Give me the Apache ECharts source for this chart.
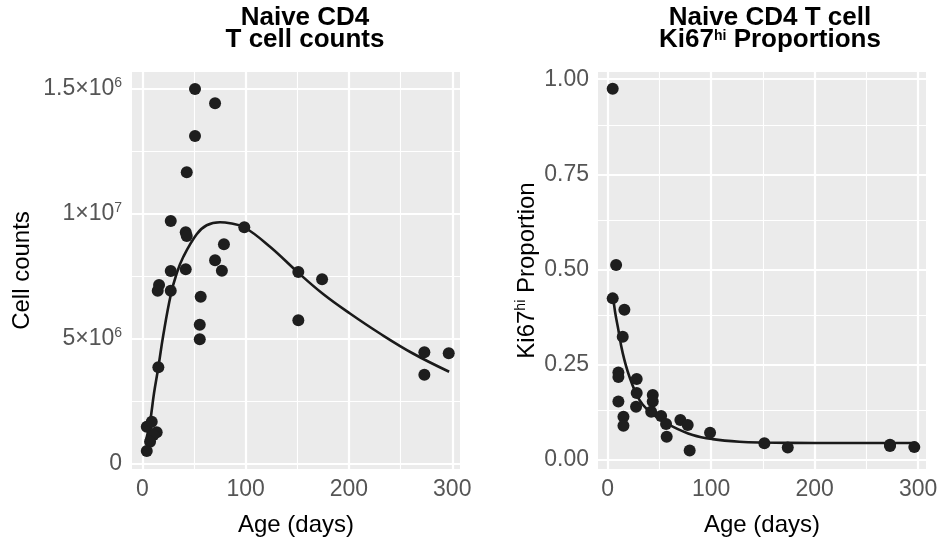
<!DOCTYPE html>
<html>
<head>
<meta charset="utf-8">
<script src="https://cdn.jsdelivr.net/npm/echarts@6/dist/echarts.min.js"></script>
<style>
  html, body { margin: 0; padding: 0; background: #ffffff; }
  #chart { width: 950px; height: 544px; }
</style>
</head>
<body>
<div id="chart"></div>
<script>
// ---------- data ----------
// Left panel: Naive CD4 T cell counts
const countAge = [51, 70.4, 51, 43, 27.5, 42, 43, 98.7, 79, 70.4, 77, 27.5, 42, 16.2, 14.9, 27.5, 56.5, 151, 174, 151, 55.6, 55.6, 15.5, 273, 296.6, 273, 4.3, 9.1, 13.9, 10.7, 7.5, 4.3];
const countVal = [15.0e6, 14.43e6, 13.12e6, 11.67e6, 9.72e6, 9.27e6, 9.12e6, 9.47e6, 8.79e6, 8.15e6, 7.73e6, 7.72e6, 7.79e6, 7.16e6, 6.93e6, 6.93e6, 6.69e6, 7.68e6, 7.39e6, 5.75e6, 5.57e6, 4.99e6, 3.87e6, 4.47e6, 4.43e6, 3.57e6, 1.49e6, 1.69e6, 1.27e6, 1.16e6, 0.89e6, 0.52e6];
const countFitAge = [3.6, 7.5, 11.3, 15.5, 20.3, 27.5, 33.3, 39.7, 52.6, 62.3, 75.2, 84.9, 98.7, 123.6, 151, 175, 201, 230, 262, 297];
const countFitVal = [0.96e6, 1.69e6, 2.83e6, 3.87e6, 5.16e6, 6.76e6, 7.63e6, 8.29e6, 9.19e6, 9.55e6, 9.67e6, 9.63e6, 9.47e6, 8.69e6, 7.65e6, 6.80e6, 6.02e6, 5.22e6, 4.42e6, 3.69e6];

// Right panel: Ki67hi proportions
const kiAge = [4.8, 8.1, 4.8, 16.1, 14.5, 10.3, 10.3, 28, 28, 10.3, 27.4, 43.5, 43.5, 42, 51.6, 56.4, 57, 15.2, 15.2, 70.2, 77.3, 79.2, 98.9, 151.4, 174, 272.8, 272.8, 296.3];
const kiVal = [0.975, 0.512, 0.424, 0.394, 0.323, 0.229, 0.217, 0.212, 0.175, 0.153, 0.139, 0.170, 0.153, 0.126, 0.115, 0.094, 0.060, 0.113, 0.089, 0.104, 0.091, 0.024, 0.071, 0.043, 0.032, 0.039, 0.036, 0.033];
const kiFitAge = [4.8, 7, 9.7, 14.5, 21, 30.6, 40, 46.8, 62.8, 82.1, 101.4, 127.2, 150, 200, 298];
const kiFitVal = [0.437, 0.39, 0.35, 0.28, 0.218, 0.157, 0.127, 0.113, 0.087, 0.065, 0.054, 0.047, 0.045, 0.044, 0.044];

// Ticks
const xTicks = [0, 100, 200, 300];
const xMinor = [50, 150, 250];
const countTicks = [0, 5e6, 1e7, 1.5e7];
const countTickBase = ['0', '5×10', '1×10', '1.5×10'];
const countTickExp = ['', '6', '7', '6'];
const countMinor = [2.5e6, 7.5e6, 1.25e7];
const kiTicks = [0, 0.25, 0.5, 0.75, 1.0];
const kiTickLabels = ['0.00', '0.25', '0.50', '0.75', '1.00'];
const kiMinor = [0.125, 0.375, 0.625, 0.875];

// ---------- build ----------
const zip = (a, b) => a.map((v, i) => [v, b[i]]);
const FONT = 'Liberation Sans';
const TICK_COLOR = '#555555';
const MAJOR_W = 2.2, MINOR_W = 1.1;

function gridLines(xMaj, xMin, yMaj, yMin) {
  const d = [];
  xMin.forEach(v => d.push({ xAxis: v, lineStyle: { width: MINOR_W } }));
  yMin.forEach(v => d.push({ yAxis: v, lineStyle: { width: MINOR_W } }));
  xMaj.forEach(v => d.push({ xAxis: v, lineStyle: { width: MAJOR_W } }));
  yMaj.forEach(v => d.push({ yAxis: v, lineStyle: { width: MAJOR_W } }));
  return d;
}

function xAxisCfg(gridIndex, min, max) {
  return {
    type: 'value', gridIndex, min, max,
    splitLine: { show: false },
    axisLine: { show: false },
    axisTick: { show: true, customValues: xTicks, length: 5, lineStyle: { color: '#333333', width: 1.8 } },
    axisLabel: { customValues: xTicks, margin: 9, color: TICK_COLOR, fontFamily: FONT, fontSize: 23 },
    name: 'Age (days)', nameLocation: 'middle', nameGap: 44,
    nameTextStyle: { color: '#000', fontFamily: FONT, fontSize: 24 }
  };
}

const supRich = {
  a: { color: TICK_COLOR, fontFamily: FONT, fontSize: 23, lineHeight: 26 },
  s: { color: TICK_COLOR, fontFamily: FONT, fontSize: 14, lineHeight: 26, verticalAlign: 'top', padding: [0, 0, 10, 0] }
};

function markLineCfg(data) {
  return {
    silent: true, z: 1, symbol: ['none', 'none'], label: { show: false }, animation: false,
    lineStyle: { color: '#ffffff', type: 'solid' },
    emphasis: { disabled: true },
    data
  };
}

const TITLE_SIZE = 26, TITLE_LH = 22;

const option = {
  animation: false,
  backgroundColor: '#ffffff',
  title: [
    {
      text: 'Naive CD4\nT cell counts',
      left: 300, top: 2, textAlign: 'center',
      textStyle: { fontFamily: FONT, fontWeight: 'bold', fontSize: TITLE_SIZE, lineHeight: TITLE_LH, color: '#000' }
    },
    {
      text: '{b|Naive CD4 T cell}\n{b|Ki67}{s|hi}{b| Proportions}',
      left: 765, top: 2, textAlign: 'center',
      textStyle: {
        rich: {
          b: { fontFamily: FONT, fontWeight: 'bold', fontSize: TITLE_SIZE, lineHeight: TITLE_LH, color: '#000' },
          s: { fontFamily: FONT, fontWeight: 'bold', fontSize: 14, lineHeight: TITLE_LH, color: '#000', verticalAlign: 'top', padding: [0, 0, 6, 0] }
        }
      }
    }
  ],
  grid: [
    { left: 132, top: 72, width: 328, height: 397, show: true, backgroundColor: '#EBEBEB', borderWidth: 0 },
    { left: 598, top: 72, width: 328, height: 397, show: true, backgroundColor: '#EBEBEB', borderWidth: 0 }
  ],
  xAxis: [xAxisCfg(0, -10, 307.5), xAxisCfg(1, -9.4, 307.6)],
  yAxis: [
    {
      type: 'value', gridIndex: 0, min: -2e5, max: 15.68e6,
      splitLine: { show: false }, axisLine: { show: false },
      axisTick: { show: true, customValues: countTicks, length: 5, lineStyle: { color: '#333333', width: 1.8 } },
      axisLabel: {
        customValues: countTicks, margin: 10,
        formatter: function (v) {
          const i = countTicks.findIndex(t => Math.abs(t - v) < 1);
          if (i < 0) return '';
          return countTickExp[i] ? '{a|' + countTickBase[i] + '}{s|' + countTickExp[i] + '}' : '{a|' + countTickBase[i] + '}';
        },
        rich: supRich
      },
      name: 'Cell counts', nameLocation: 'middle', nameGap: 98,
      nameTextStyle: { color: '#000', fontFamily: FONT, fontSize: 24 }
    },
    {
      type: 'value', gridIndex: 1, min: -0.0245, max: 1.019,
      splitLine: { show: false }, axisLine: { show: false },
      axisTick: { show: true, customValues: kiTicks, length: 5, lineStyle: { color: '#333333', width: 1.8 } },
      axisLabel: {
        customValues: kiTicks, margin: 9, color: TICK_COLOR, fontFamily: FONT, fontSize: 23,
        formatter: function (v) {
          const i = kiTicks.findIndex(t => Math.abs(t - v) < 1e-6);
          return i < 0 ? '' : kiTickLabels[i];
        }
      },
      name: '{n|Ki67}{s|hi}{n| Proportion}', nameLocation: 'middle', nameGap: 58,
      nameTextStyle: {
        rich: {
          n: { color: '#000', fontFamily: FONT, fontSize: 24, lineHeight: 26 },
          s: { color: '#000', fontFamily: FONT, fontSize: 14, lineHeight: 26, verticalAlign: 'top', padding: [0, 0, 10, 0] }
        }
      }
    }
  ],
  series: [
    {
      type: 'line', xAxisIndex: 0, yAxisIndex: 0, data: [], z: 1, silent: true,
      markLine: markLineCfg(gridLines(xTicks, xMinor, countTicks, countMinor))
    },
    {
      type: 'line', xAxisIndex: 1, yAxisIndex: 1, data: [], z: 1, silent: true,
      markLine: markLineCfg(gridLines(xTicks, xMinor, kiTicks, kiMinor))
    },
    {
      type: 'line', xAxisIndex: 0, yAxisIndex: 0, data: zip(countFitAge, countFitVal),
      smooth: 0.4, showSymbol: false, z: 3,
      lineStyle: { color: '#1a1a1a', width: 2.6 }
    },
    {
      type: 'line', xAxisIndex: 1, yAxisIndex: 1, data: zip(kiFitAge, kiFitVal),
      smooth: 0.4, showSymbol: false, z: 3,
      lineStyle: { color: '#1a1a1a', width: 2.6 }
    },
    {
      type: 'scatter', xAxisIndex: 0, yAxisIndex: 0, data: zip(countAge, countVal),
      symbolSize: 12, z: 4, itemStyle: { color: '#1e1e1e', opacity: 1 }
    },
    {
      type: 'scatter', xAxisIndex: 1, yAxisIndex: 1, data: zip(kiAge, kiVal),
      symbolSize: 12, z: 4, itemStyle: { color: '#1e1e1e', opacity: 1 }
    }
  ]
};

const chart = echarts.init(document.getElementById('chart'), null, { renderer: 'canvas' });
chart.setOption(option);
</script>
</body>
</html>
